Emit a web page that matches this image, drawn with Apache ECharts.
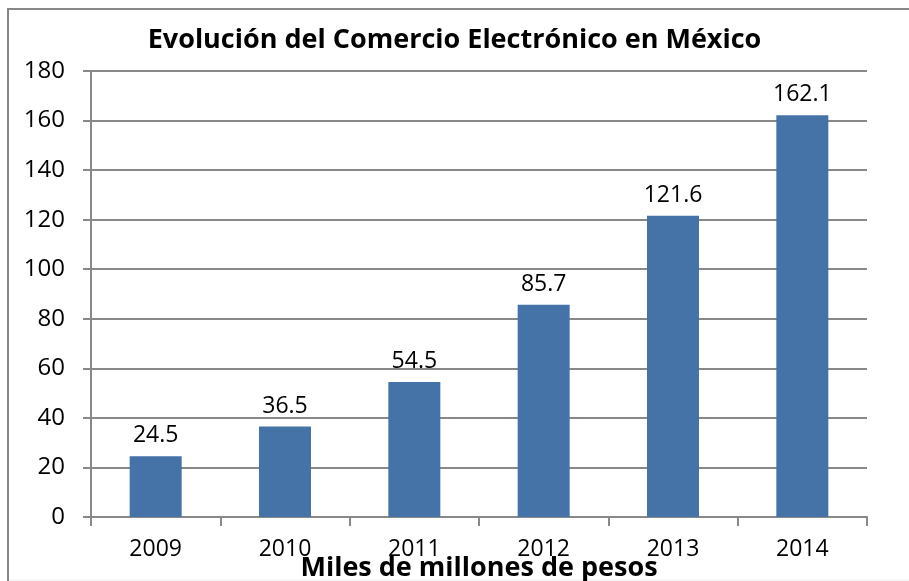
<!DOCTYPE html>
<html>
<head>
<meta charset="utf-8">
<script src="https://cdn.jsdelivr.net/npm/echarts@6/dist/echarts.min.js"></script>
<style>
  html, body { margin: 0; padding: 0; background: #fff; }
  #chart { width: 909px; height: 581px; }
</style>
</head>
<body>
<div id="chart"></div>
<script>
const years = ['2009', '2010', '2011', '2012', '2013', '2014'];
const ventas = [24.5, 36.5, 54.5, 85.7, 121.6, 162.1];

const font = 'Open Sans';
const gridColor = '#888888';

const chart = echarts.init(document.getElementById('chart'));

chart.setOption({
  animation: false,
  textStyle: { fontFamily: font },
  title: {
    text: 'Evolución del Comercio Electrónico en México',
    left: 'center',
    top: 22,
    textStyle: { fontFamily: font, fontSize: 27, fontWeight: 'bold', color: '#000' },
  },
  graphic: [
    {
      type: 'rect',
      shape: { x: 8, y: 9, width: 920, height: 600 },
      style: { fill: 'none', stroke: '#878787', lineWidth: 2 },
      silent: true,
    },
    {
      type: 'line',
      shape: { x1: 9, y1: 580, x2: 909, y2: 580 },
      style: { stroke: '#eeeeee', lineWidth: 1 },
      silent: true,
    },
  ],
  grid: { left: 91, right: 42, top: 71, bottom: 64, outerBoundsMode: 'none' },
  xAxis: {
    type: 'category',
    data: years,
    name: 'Miles de millones de pesos',
    nameLocation: 'middle',
    nameGap: 38,
    nameMoveOverlap: false,
    nameTextStyle: { fontFamily: font, fontSize: 27, fontWeight: 'bold', color: '#000' },
    axisLine: { lineStyle: { color: gridColor, width: 2 } },
    axisTick: { show: true, length: 9, lineStyle: { color: gridColor, width: 2 } },
    axisLabel: { margin: 21, fontSize: 23, color: '#000' },
  },
  yAxis: {
    type: 'value',
    min: 0,
    max: 180,
    interval: 20,
    axisLine: { show: true, lineStyle: { color: gridColor, width: 2 } },
    axisTick: { show: true, length: 8, lineStyle: { color: gridColor, width: 2 } },
    axisLabel: { margin: 26, fontSize: 24, color: '#000' },
    splitLine: { lineStyle: { color: gridColor, width: 2 } },
  },
  series: [
    {
      type: 'bar',
      data: ventas,
      barWidth: 52,
      itemStyle: { color: '#4572A7' },
      label: {
        show: true,
        position: 'top',
        distance: 9,
        fontSize: 23,
        color: '#000',
      },
    },
  ],
});
</script>
</body>
</html>
